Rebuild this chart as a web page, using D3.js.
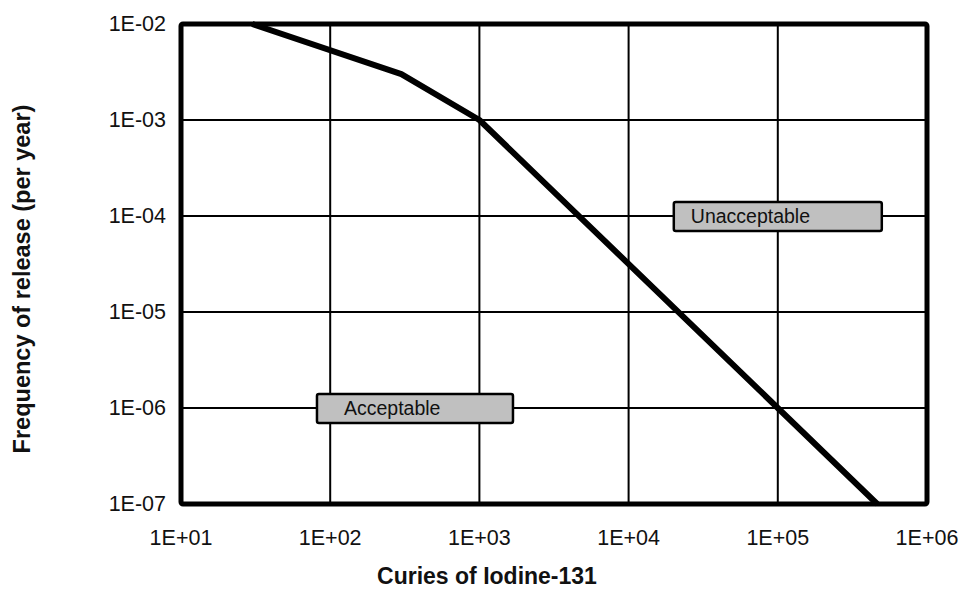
<!DOCTYPE html>
<html>
<head>
  <style>
    body { margin: 0; background: #fff; }
    text { font-family: "Liberation Sans", Arial, sans-serif; fill: #111; }
  </style>
</head>
<body>
  <script src="https://d3js.org/d3.v7.min.js"></script>
  <script>
    // curve of the frequency / release limit
    const curveCuries = [30, 300, 1000, 1e5, 4.64e5];
    const curveFreq = [1e-2, 3e-3, 1e-3, 1e-6, 1e-7];

    const xTicks = [1e1, 1e2, 1e3, 1e4, 1e5, 1e6];
    const xTickLabels = ["1E+01", "1E+02", "1E+03", "1E+04", "1E+05", "1E+06"];
    const yTicks = [1e-2, 1e-3, 1e-4, 1e-5, 1e-6, 1e-7];
    const yTickLabels = ["1E-02", "1E-03", "1E-04", "1E-05", "1E-06", "1E-07"];

    const zoneNames = ["Unacceptable", "Acceptable"];
    const zoneCuries = [1e5, 370];
    const zoneFreq = [1e-4, 1e-6];

    const width = 959, height = 590;
    const margin = { left: 181, right: 32, top: 24, bottom: 86 };

    const svg = d3.select('body').append('svg')
      .attr('width', width)
      .attr('height', height);

    const x = d3.scaleLog().domain([1e1, 1e6]).range([margin.left, width - margin.right]);
    const y = d3.scaleLog().domain([1e-7, 1e-2]).range([height - margin.bottom, margin.top]);

    // grid
    svg.append('g').selectAll('line').data(xTicks).enter().append('line')
      .attr('x1', d => x(d)).attr('x2', d => x(d))
      .attr('y1', y(1e-2)).attr('y2', y(1e-7))
      .attr('stroke', '#000').attr('stroke-width', 2);
    svg.append('g').selectAll('line').data(yTicks).enter().append('line')
      .attr('y1', d => y(d)).attr('y2', d => y(d))
      .attr('x1', x(1e1)).attr('x2', x(1e6))
      .attr('stroke', '#000').attr('stroke-width', 2);

    // frame
    svg.append('rect')
      .attr('x', x(1e1)).attr('y', y(1e-2))
      .attr('width', x(1e6) - x(1e1)).attr('height', y(1e-7) - y(1e-2))
      .attr('rx', 2)
      .attr('fill', 'none').attr('stroke', '#000').attr('stroke-width', 5);

    // tick labels
    svg.append('g').selectAll('text').data(xTicks).enter().append('text')
      .attr('x', d => x(d)).attr('y', y(1e-7) + 41)
      .attr('text-anchor', 'middle')
      .style('font-size', '21.5px')
      .text((d, i) => xTickLabels[i]);
    svg.append('g').selectAll('text').data(yTicks).enter().append('text')
      .attr('x', x(1e1) - 15).attr('y', d => y(d) + 7)
      .attr('text-anchor', 'end')
      .style('font-size', '21.5px')
      .text((d, i) => yTickLabels[i]);

    // curve
    const line = d3.line().x(d => x(d[0])).y(d => y(d[1]));
    svg.append('path')
      .datum(curveCuries.map((c, i) => [c, curveFreq[i]]))
      .attr('d', line)
      .attr('fill', 'none').attr('stroke', '#000').attr('stroke-width', 6)
      .attr('stroke-linejoin', 'round');

    // zone labels
    const boxW = [208, 196];
    const zones = svg.append('g').selectAll('g').data(zoneNames).enter().append('g')
      .attr('transform', (d, i) => `translate(${x(zoneCuries[i])},${y(zoneFreq[i])})`);
    zones.append('rect')
      .attr('x', (d, i) => -boxW[i] / 2).attr('y', -14)
      .attr('width', (d, i) => boxW[i]).attr('height', 29)
      .attr('rx', 2)
      .attr('fill', '#c0c0c0').attr('stroke', '#000').attr('stroke-width', 2.5);
    zones.append('text')
      .attr('x', (d, i) => -boxW[i] / 2 + [17, 27][i]).attr('y', 7)
      .style('font-size', '19.5px')
      .text(d => d);

    // axis titles
    svg.append('text')
      .attr('x', 487).attr('y', 584)
      .attr('text-anchor', 'middle')
      .style('font-size', '23px').style('font-weight', 'bold')
      .text('Curies of Iodine-131');
    svg.append('text')
      .attr('transform', 'translate(30,279) rotate(-90)')
      .attr('text-anchor', 'middle')
      .style('font-size', '23.5px').style('font-weight', 'bold')
      .text('Frequency of release (per year)');
  </script>
</body>
</html>
